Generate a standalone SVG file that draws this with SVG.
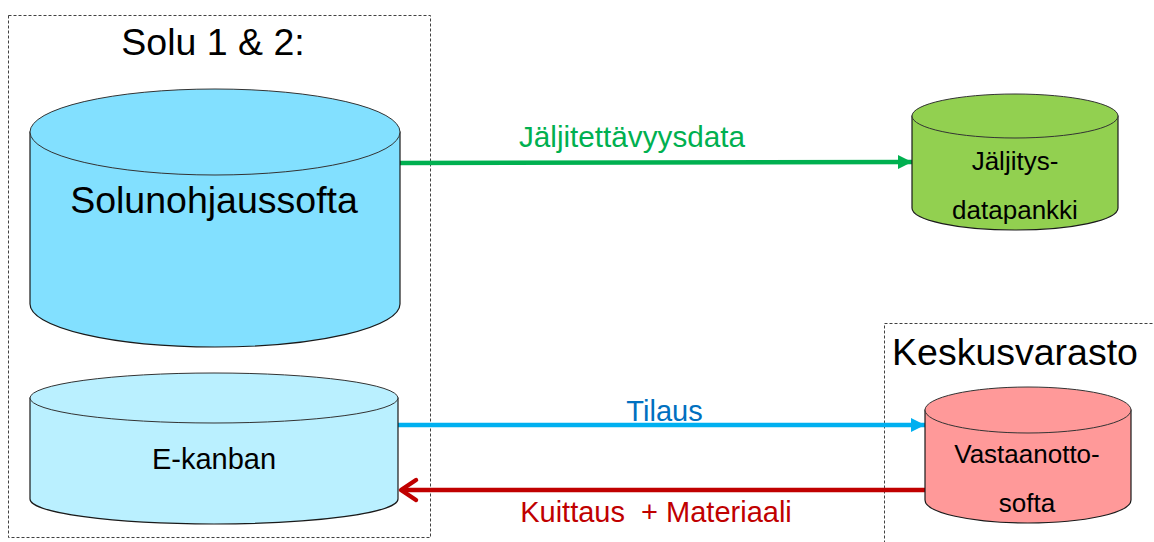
<svg xmlns="http://www.w3.org/2000/svg" width="1154" height="542" viewBox="0 0 1154 542">
  <style>
    .frame { fill: none; stroke: #404040; stroke-width: 1; stroke-dasharray: 3 2; }
    .body { stroke: #1a1a1a; stroke-width: 1.2; }
    .lid { stroke: #333; stroke-width: 1; }
    .t { font-family: "Liberation Sans", Arial, sans-serif; fill: #000; text-anchor: middle; }
    .flow { fill: none; stroke-width: 4.5; }
  </style>
  <defs>
    <marker id="headGreen" viewBox="0 0 14 14" refX="14" refY="7" markerUnits="userSpaceOnUse" markerWidth="14" markerHeight="14" orient="auto">
      <path d="M0,0 L14,7 L0,14 z" fill="#00B050"/>
    </marker>
    <marker id="headBlue" viewBox="0 0 14 14" refX="14" refY="7" markerUnits="userSpaceOnUse" markerWidth="14" markerHeight="14" orient="auto">
      <path d="M0,0 L14,7 L0,14 z" fill="#00B0F0"/>
    </marker>
  </defs>

  <rect fill="#fff" width="1154" height="542"/>

  <!-- group frames -->
  <g id="solu-frame">
    <rect class="frame" x="8.5" y="15.5" width="422" height="522"/>
    <text class="t" x="213" y="55" font-size="37.5">Solu 1 &amp; 2:</text>
  </g>
  <g id="keskusvarasto-frame">
    <rect class="frame" x="884.5" y="323.5" width="300" height="300"/>
    <text class="t" x="1015" y="365" font-size="37.5">Keskusvarasto</text>
  </g>

  <!-- connectors -->
  <g id="connectors">
    <line class="flow" x1="400" y1="163" x2="912" y2="162" stroke="#00B050" marker-end="url(#headGreen)"/>
    <text class="t" x="632" y="147" font-size="29.7" style="fill:#00B050">Jäljitettävyysdata</text>

    <line class="flow" x1="398" y1="425" x2="925" y2="425" stroke="#00B0F0" marker-end="url(#headBlue)"/>
    <text class="t" x="664.5" y="421" font-size="29" style="fill:#0070C0">Tilaus</text>

    <line class="flow" x1="925" y1="490" x2="402" y2="490" stroke="#C00000"/>
    <polyline fill="none" stroke="#C00000" stroke-width="4.5" stroke-linecap="round" stroke-linejoin="round" points="416,480 401,490 416,500"/>
    <text class="t" x="656" y="522" font-size="29" style="fill:#C00000;white-space:pre" xml:space="preserve">Kuittaus  + Materiaali</text>
  </g>

  <!-- Solunohjaussofta -->
  <g id="solunohjaussofta">
    <path class="body" fill="#82E0FF" d="M30,132 V304 A185,43 0 0 0 400,304 V132 Z"/>
    <ellipse class="lid" fill="#82E0FF" cx="215" cy="132" rx="185" ry="43"/>
    <text class="t" x="214" y="213" font-size="37.5">Solunohjaussofta</text>
  </g>

  <!-- E-kanban -->
  <g id="e-kanban">
    <path class="body" fill="#BAF0FF" d="M30,398 V499 A184,25 0 0 0 398,499 V398 Z"/>
    <ellipse class="lid" fill="#BAF0FF" cx="214" cy="398" rx="184" ry="25"/>
    <text class="t" x="214" y="469" font-size="29">E-kanban</text>
  </g>

  <!-- Jäljitys-datapankki -->
  <g id="jaljitys-datapankki">
    <path class="body" fill="#92D050" d="M912,116 V208 A103,22 0 0 0 1118,208 V116 Z"/>
    <ellipse class="lid" fill="#92D050" cx="1015" cy="116" rx="103" ry="22"/>
    <text class="t" x="1015" y="170" font-size="26">Jäljitys-</text>
    <text class="t" x="1015" y="219" font-size="26">datapankki</text>
  </g>

  <!-- Vastaanotto-softa -->
  <g id="vastaanotto-softa">
    <path class="body" fill="#FF9999" d="M925,410 V500 A103,23 0 0 0 1131,500 V410 Z"/>
    <ellipse class="lid" fill="#FF9999" cx="1028" cy="410" rx="103" ry="23"/>
    <text class="t" x="1027" y="463" font-size="26">Vastaanotto-</text>
    <text class="t" x="1027" y="512" font-size="26">softa</text>
  </g>
</svg>
